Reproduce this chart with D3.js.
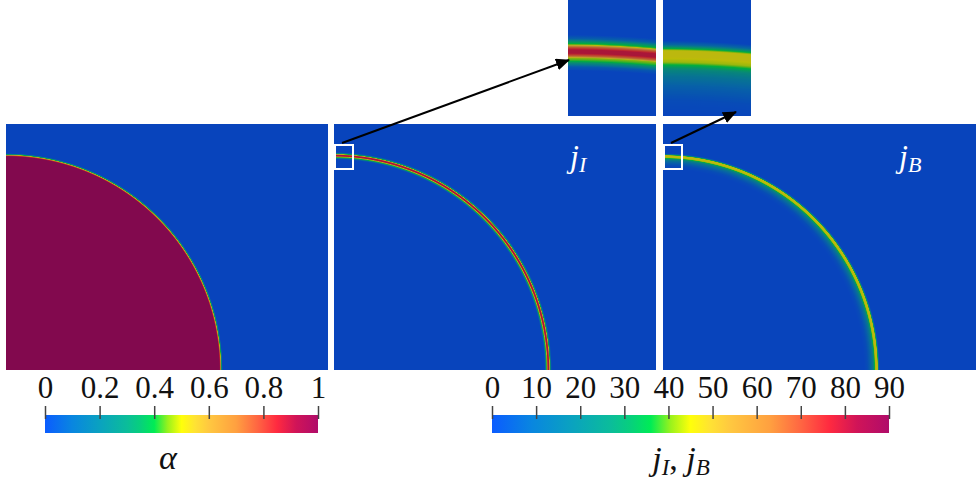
<!DOCTYPE html>
<html>
<head>
<meta charset="utf-8">
<script src="https://cdn.jsdelivr.net/npm/d3@7"></script>
<style>
  body { margin: 0; background: #fff; }
  text { font-family: "Liberation Serif", "Times New Roman", serif; }
</style>
</head>
<body>
<div id="chart"></div>
<script>
// colorbar ticks
var alphaTicks = [0, 0.2, 0.4, 0.6, 0.8, 1];
var jTicks = [0, 10, 20, 30, 40, 50, 60, 70, 80, 90];

// colormap (position in [0,1] -> colour)
var cmapStops = [0, 0.1, 0.2, 0.3, 0.35, 0.4, 0.45, 0.5, 0.55, 0.6, 0.7, 0.78, 0.85, 0.92, 1];
var cmapColors = ["#0b5cff", "#0986e0", "#0aa2c0", "#0bbd9a", "#07d07c", "#00ec55", "#9af21c",
                  "#ffff0a", "#ffe234", "#ffc840", "#ffa040", "#ff6442", "#ff2a40", "#d01458", "#b00c6a"];

// field profiles across the interface (distance in px from interface, + = outward)
var alphaDist = [-1.6, -0.6, 0, 0.6, 1.6];
var alphaVal  = [1, 0.75, 0.48, 0.3, 0];
var jIDist = [-4.1, -3.3, -2.7, -2.1, -1.5, -1.1, -0.5, 0.2, 0.8, 1.3, 1.9, 2.5, 3.3];
var jIVal  = [0, 6, 22, 37, 42, 66, 80, 80, 66, 40, 28, 8, 0];
var jBDist = [-13.6, -10.3, -7.2, -5.2, -3.9, -3.0, -2.3, -1.2, 0, 0.7, 1.3, 2.1];
var jBVal  = [0, 2, 8, 16, 24, 35, 43, 46, 46, 30, 10, 0];

var width = 976, height = 488;
var panelY = 124, panelH = 246, panelW = 322;

var cmap = d3.scaleLinear().domain(cmapStops).range(cmapColors).interpolate(d3.interpolateRgb).clamp(true);
function shade(c) { return d3.rgb(c).darker(0.85).formatHex(); }

var panels = [
    { id: "a", x: 6, R: 215, dist: alphaDist, val: alphaVal, max: 1 },
    { id: "jI", x: 334, R: 214.5, dist: jIDist, val: jIVal, max: 90, sub: "I",
      box: { x: 1, y: 21, w: 18, h: 24 }, inset: { x: 568, y: 0, w: 88, h: 116 }, tip: [569, 60] },
    { id: "jB", x: 663, R: 214.5, dist: jBDist, val: jBVal, max: 90, sub: "B",
      box: { x: 1, y: 21, w: 18, h: 24 }, inset: { x: 663, y: 0, w: 88, h: 116 }, tip: [736, 112] }
];

var svg = d3.select("#chart").append("svg")
    .attr("width", width)
    .attr("height", height);

var defs = svg.append("defs");

defs.append("marker")
    .attr("id", "arrow")
    .attr("markerUnits", "userSpaceOnUse")
    .attr("markerWidth", 14)
    .attr("markerHeight", 12)
    .attr("refX", 13)
    .attr("refY", 6)
    .attr("orient", "auto")
    .append("path")
    .attr("d", "M0,0 L14,6 L0,12 Z")
    .attr("fill", "#000");

// radial gradient across the interface band, in panel-local coordinates
panels.forEach(function (p) {
    var value = d3.scaleLinear().domain(p.dist).range(p.val).clamp(true);
    var lo = d3.min(p.dist), hi = d3.max(p.dist);
    var grad = defs.append("radialGradient")
        .attr("id", "field-" + p.id)
        .attr("gradientUnits", "userSpaceOnUse")
        .attr("cx", 0).attr("cy", panelH)
        .attr("fx", 0).attr("fy", panelH)
        .attr("fr", p.R + lo)
        .attr("r", p.R + hi);
    grad.selectAll("stop")
        .data(d3.range(lo, hi + 0.001, 0.1))
        .enter()
        .append("stop")
        .attr("offset", d => (d - lo) / (hi - lo))
        .attr("stop-color", d => shade(cmap(value(d) / p.max)));
});

function drawField(g, p) {
    g.append("rect")
        .attr("x", -5).attr("y", -5)
        .attr("width", panelW + 10).attr("height", panelH + 10)
        .attr("fill", "url(#field-" + p.id + ")");
}

panels.forEach(function (p) {
    defs.append("clipPath").attr("id", "clip-" + p.id)
        .append("rect").attr("width", panelW).attr("height", panelH);

    var g = svg.append("g")
        .attr("transform", "translate(" + p.x + "," + panelY + ")")
        .append("g")
        .attr("clip-path", "url(#clip-" + p.id + ")");
    drawField(g, p);

    if (p.box) {
        // zoomed inset of the boxed region
        defs.append("clipPath").attr("id", "iclip-" + p.id)
            .append("rect")
            .attr("x", p.box.x).attr("y", p.box.y)
            .attr("width", p.box.w).attr("height", p.box.h);
        var sx = p.inset.w / p.box.w, sy = p.inset.h / p.box.h;
        var ig = svg.append("g")
            .attr("transform", "translate(" + p.inset.x + "," + p.inset.y + ") scale(" + sx + "," + sy +
                  ") translate(" + (-p.box.x) + "," + (-p.box.y) + ")")
            .attr("clip-path", "url(#iclip-" + p.id + ")");
        drawField(ig, p);

        svg.append("rect")
            .attr("x", p.x + p.box.x).attr("y", panelY + p.box.y)
            .attr("width", p.box.w).attr("height", p.box.h)
            .attr("fill", "none")
            .attr("stroke", "#fff")
            .attr("stroke-width", 2);

        svg.append("line")
            .attr("x1", p.x + p.box.x + 7).attr("y1", panelY + p.box.y - 2)
            .attr("x2", p.tip[0]).attr("y2", p.tip[1])
            .attr("stroke", "#000")
            .attr("stroke-width", 2)
            .attr("marker-end", "url(#arrow)");

        var lab = svg.append("text")
            .attr("x", p.x + 236).attr("y", 167)
            .attr("fill", "#fff")
            .attr("font-size", 32)
            .attr("font-style", "italic");
        lab.append("tspan").text("j");
        lab.append("tspan").attr("font-size", 22).attr("dy", 5).text(p.sub);
    }
});

// colorbars
function colorbar(id, x0, x1, domain, ticks) {
    var grad = defs.append("linearGradient").attr("id", id);
    cmapStops.forEach(function (s, i) {
        grad.append("stop").attr("offset", s).attr("stop-color", cmapColors[i]);
    });
    var x = d3.scaleLinear().domain(domain).range([x0, x1]);
    svg.append("rect")
        .attr("x", x0).attr("y", 415)
        .attr("width", x1 - x0).attr("height", 18)
        .attr("fill", "url(#" + id + ")");
    var axis = svg.append("g")
        .attr("transform", "translate(0,419)")
        .call(d3.axisTop(x).tickValues(ticks).tickSize(13).tickPadding(8).tickFormat(d => String(d)));
    axis.select(".domain").remove();
    axis.attr("font-family", null);
    axis.selectAll("line").attr("stroke", "#444").attr("stroke-width", 1.5);
    axis.selectAll("text")
        .attr("font-size", 31)
        .attr("fill", "#111");
}

colorbar("cbA", 45, 318, [0, 1], alphaTicks);
colorbar("cbJ", 492, 889, [0, 90], jTicks);

svg.append("text")
    .attr("x", 168).attr("y", 469)
    .attr("text-anchor", "middle")
    .attr("font-size", 34)
    .attr("font-style", "italic")
    .attr("fill", "#111")
    .text("α");

var jl = svg.append("text")
    .attr("x", 681).attr("y", 470)
    .attr("text-anchor", "middle")
    .attr("font-size", 34)
    .attr("font-style", "italic")
    .attr("fill", "#111");
jl.append("tspan").text("j");
jl.append("tspan").attr("font-size", 23).attr("dy", 5).text("I");
jl.append("tspan").attr("dy", -5).attr("font-style", "normal").text(", ");
jl.append("tspan").text("j");
jl.append("tspan").attr("font-size", 23).attr("dy", 5).text("B");
</script>
</body>
</html>
